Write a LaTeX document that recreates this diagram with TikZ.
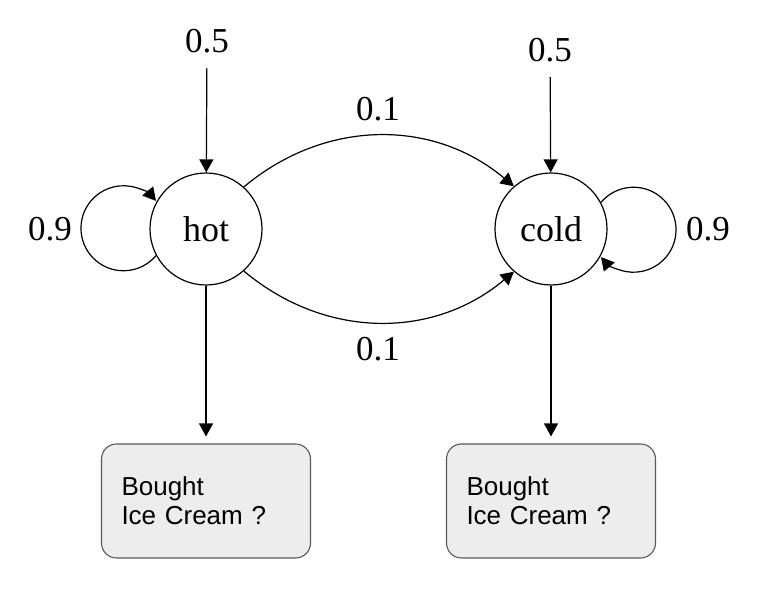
\documentclass[tikz,border=0pt]{standalone}
\usepackage{fontspec}
\setmainfont{Liberation Serif}
\setsansfont{Liberation Sans}
\usetikzlibrary{arrows.meta}

\begin{document}
\begin{tikzpicture}[x=1pt, y=1pt,
    estado/.style={circle, draw, line width=1.2pt, minimum size=112pt, inner sep=0pt, font=\fontsize{36}{40}\selectfont},
    etiqueta/.style={font=\fontsize{35}{40}\selectfont},
    inicio/.style={etiqueta, inner sep=15pt},
    caja/.style={draw=black!65, fill=black!7, line width=1.1pt, rounded corners=15pt, minimum width=209pt, minimum height=114pt, text width=169pt, inner xsep=20pt, align=left, font=\sffamily\fontsize{26}{29}\selectfont},
    flecha/.style={-{Triangle[length=13pt,width=14pt]}, line width=1.2pt}]
    \useasboundingbox (0,0) rectangle (771,615);

    % Estados
    \node[estado] (hot) at (206,386) {hot};
    \node[estado] (cold) at (551,386) {cold};

    % Cajas
    \node[caja] (obsHot) at (206,114) {Bought\\Ice Cream ?};
    \node[caja] (obsCold) at (551,114) {Bought\\Ice Cream ?};

    % Etiquetas
    \node[inicio] (iniHot) at (207,574) {0.5};
    \node[inicio] (iniCold) at (550,565) {0.5};
    \node[etiqueta] (pArriba) at (378,506) {0.1};
    \node[etiqueta] (pAbajo) at (378,266) {0.1};
    \node[etiqueta] (pHot) at (50,386) {0.9};
    \node[etiqueta] (pCold) at (708,386) {0.9};

    % Transiciones
    \draw[flecha] (iniHot) -- (hot);
    \draw[flecha] (iniCold) -- (cold);
    \draw[flecha] (hot.48) to[out=40, in=140] (cold.131);
    \draw[flecha] (hot.-48) to[out=-40, in=-140] (cold.-131);
    \draw[flecha] (hot.208) arc[start angle=-40, end angle=-320, radius=42.5];
    \draw[flecha] (cold.28) arc[start angle=140, end angle=-140, radius=42.5];

    % Observaciones
    \draw[flecha, shorten >=7pt] (hot) -- (obsHot);
    \draw[flecha, shorten >=7pt] (cold) -- (obsCold);
\end{tikzpicture}
\end{document}
